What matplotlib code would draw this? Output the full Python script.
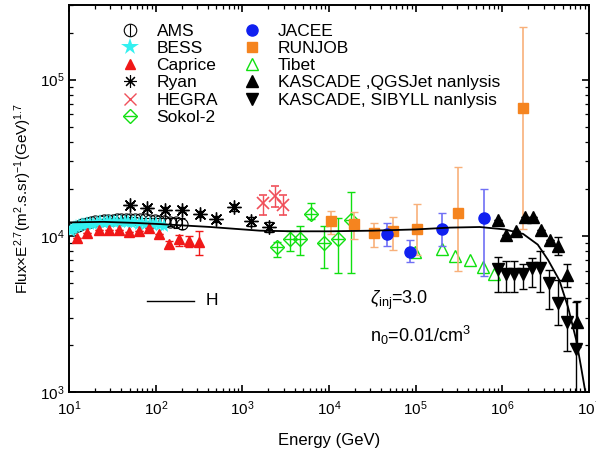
import numpy as np
import matplotlib
matplotlib.use("Agg")
import matplotlib.pyplot as plt
from matplotlib.lines import Line2D

plt.rcParams['font.family'] = ['Liberation Sans', 'DejaVu Sans']
plt.rcParams['mathtext.fontset'] = 'custom'
plt.rcParams['mathtext.rm'] = 'Liberation Sans'
plt.rcParams['mathtext.it'] = 'Liberation Sans:italic'
plt.rcParams['mathtext.default'] = 'regular'

# model curve
curve_E = [10, 25, 59, 112, 427, 1585, 3981, 1e4, 3.16e4, 1e5, 2.5e5, 5.5e5,
           1.07e6, 1.74e6, 2.57e6, 3.39e6, 4.57e6, 5.75e6, 7.16e6, 8.13e6, 9.12e6]
curve_F = [1.22e4, 1.23e4, 1.21e4, 1.19e4, 1.14e4, 1.08e4, 1.07e4, 1.07e4, 1.08e4,
           1.10e4, 1.13e4, 1.14e4, 1.10e4, 1.03e4, 8.8e3, 7.0e3, 5.2e3, 3.5e3,
           2.15e3, 1.45e3, 1.0e3]

ams_E = [11, 12.5, 14, 16, 18, 20, 22.5, 25, 28, 32, 36, 40, 45, 51, 58, 66, 75,
         85, 97, 110, 125, 145, 170, 200]
ams_F = [11.3e3, 11.6e3, 11.9e3, 12.1e3, 12.3e3, 12.4e3, 12.5e3, 12.6e3, 12.6e3,
         12.7e3, 12.8e3, 12.8e3, 12.9e3, 12.9e3, 12.9e3, 12.8e3, 12.8e3, 12.7e3,
         12.6e3, 12.5e3, 12.4e3, 12.3e3, 12.2e3, 12.0e3]
ams_err = [0.3e3] * 18 + [0.5e3, 0.6e3, 0.7e3, 0.8e3, 0.9e3, 1.0e3]

bess_E = [10.5, 11, 11.5, 12, 13, 14, 15, 16, 17.5, 19, 21, 23, 25, 27.5, 30, 33,
          36, 40, 44, 48, 53, 58, 64, 70, 77, 85, 93, 102, 112, 123]
bess_F = [10.8e3, 11.0e3, 11.2e3, 11.4e3, 11.5e3, 11.7e3, 11.8e3, 11.9e3, 12.0e3,
          12.0e3, 12.1e3, 12.2e3, 12.1e3, 12.2e3, 12.3e3, 12.2e3, 12.3e3, 12.2e3,
          12.3e3, 12.2e3, 12.1e3, 12.2e3, 12.0e3, 12.1e3, 11.9e3, 12.0e3, 11.8e3,
          11.9e3, 11.7e3, 11.6e3]

caprice_E = [12.3, 16.0, 22.4, 29.2, 38.0, 49.5, 64.6, 84.3, 108, 141, 184, 240, 313]
caprice_F = [9.67e3, 1.04e4, 1.09e4, 1.09e4, 1.09e4, 1.06e4, 1.08e4, 1.12e4,
             1.03e4, 8.9e3, 9.5e3, 9.3e3, 9.2e3]
caprice_lo = [9.67e3, 1.04e4, 1.09e4, 1.09e4, 1.09e4, 1.06e4, 1.08e4, 1.12e4,
              1.03e4, 8.5e3, 8.6e3, 8.5e3, 7.6e3]
caprice_hi = [9.67e3, 1.04e4, 1.09e4, 1.09e4, 1.09e4, 1.06e4, 1.08e4, 1.12e4,
              1.03e4, 9.3e3, 1.01e4, 1.0e4, 1.08e4]

ryan_E = [50.1, 78.7, 128, 200, 324, 501, 794, 1247, 2042]
ryan_F = [1.58e4, 1.51e4, 1.47e4, 1.47e4, 1.38e4, 1.28e4, 1.52e4, 1.24e4, 1.14e4]
ryan_err = [0.04e4, 0.04e4, 0.05e4, 0.05e4, 0.06e4, 0.06e4, 0.08e4, 0.08e4, 0.08e4]

hegra_E = [1738, 2377, 2951]
hegra_F = [1.62e4, 1.79e4, 1.58e4]
hegra_lo = [1.36e4, 1.54e4, 1.36e4]
hegra_hi = [1.83e4, 2.10e4, 1.83e4]

sokol_E = [2483, 3540, 4571, 6166, 8710, 12763, 17783]
sokol_F = [8.5e3, 9.6e3, 9.6e3, 1.38e4, 9.0e3, 9.6e3, 1.27e4]
sokol_lo = [7.3e3, 8.0e3, 7.6e3, 1.28e4, 6.2e3, 5.8e3, 5.8e3]
sokol_hi = [9.2e3, 1.07e4, 1.16e4, 1.62e4, 1.16e4, 1.31e4, 1.92e4]

jacee_E = [4.62e4, 8.57e4, 2.04e5, 6.17e5]
jacee_F = [1.03e4, 7.9e3, 1.10e4, 1.30e4]
jacee_lo = [8.6e3, 6.8e3, 8.6e3, 5.5e3]
jacee_hi = [1.21e4, 9.4e3, 1.40e4, 2.0e4]

runjob_E = [1.05e4, 1.95e4, 3.3e4, 5.5e4, 1.04e5, 3.09e5, 1.74e6]
runjob_F = [1.25e4, 1.19e4, 1.04e4, 1.08e4, 1.10e4, 1.40e4, 6.6e4]
runjob_lo = [1.03e4, 9.5e3, 8.5e3, 8.1e3, 7.55e3, 6.0e3, 1.1e4]
runjob_hi = [1.45e4, 1.43e4, 1.21e4, 1.32e4, 1.60e4, 2.74e4, 2.18e5]

tibet_E = [9.8e4, 2.04e5, 2.82e5, 4.2e5, 6.0e5, 8.1e5]
tibet_F = [7.9e3, 8.3e3, 7.4e3, 7.0e3, 6.3e3, 5.7e3]

qgs_E = [8.9e5, 1.12e6, 1.43e6, 1.82e6, 2.26e6, 2.82e6, 3.55e6, 4.42e6, 5.62e6, 7.24e6]
qgs_F = [1.26e4, 1.01e4, 1.08e4, 1.32e4, 1.32e4, 1.09e4, 9.4e3, 8.6e3, 5.6e3, 2.8e3]
qgs_lo = [1.26e4, 1.01e4, 1.08e4, 1.32e4, 1.32e4, 1.09e4, 9.4e3, 7.55e3, 4.7e3, 1.95e3]
qgs_hi = [1.26e4, 1.01e4, 1.08e4, 1.32e4, 1.32e4, 1.09e4, 9.4e3, 9.8e3, 6.6e3, 3.85e3]

sib_E = [8.9e5, 1.12e6, 1.38e6, 1.74e6, 2.19e6, 2.75e6, 3.47e6, 4.42e6, 5.62e6, 7.08e6]
sib_F = [6.1e3, 5.7e3, 5.7e3, 5.7e3, 6.2e3, 6.2e3, 5.0e3, 3.7e3, 2.8e3, 1.9e3]
sib_lo = [4.4e3, 4.4e3, 4.4e3, 4.6e3, 4.7e3, 4.4e3, 3.4e3, 2.7e3, 1.84e3, 9e2]
sib_hi = [7.3e3, 6.9e3, 6.9e3, 6.6e3, 7.2e3, 8.0e3, 6.05e3, 5.2e3, 4.0e3, 3.8e3]


def bars(F, lo, hi):
    F = np.array(F)
    return [F - np.array(lo), np.array(hi) - F]


fig = plt.figure(figsize=(5.96, 4.55), dpi=100)
ax = fig.add_axes([0.116, 0.138, 0.872, 0.851])

cyan = '#33f0f0'
red = '#f01818'
green = '#10e010'
blue = '#1020f0'
orange = '#f5841f'

ax.plot(curve_E, curve_F, color='black', lw=1.3, zorder=6)

ax.errorbar(ams_E, ams_F, yerr=ams_err, fmt='o', mfc='none', mec='black', ms=8,
            mew=0.8, ecolor='black', elinewidth=0.8, capsize=2, zorder=3)
ax.plot(bess_E, bess_F, '*', color=cyan, ms=11, mew=0, zorder=4)
ax.errorbar(caprice_E, caprice_F, yerr=bars(caprice_F, caprice_lo, caprice_hi),
            fmt='^', color=red, ms=7, ecolor=red, elinewidth=1, capsize=3, zorder=5)
ax.errorbar(ryan_E, ryan_F, yerr=ryan_err, fmt='none', ecolor='black',
            elinewidth=0.8, capsize=3, zorder=5)
ax.plot(ryan_E, ryan_F, ls='none', marker=(8, 2, 0), color='black', ms=10, mew=1, zorder=5)
ax.errorbar(hegra_E, hegra_F, yerr=bars(hegra_F, hegra_lo, hegra_hi), fmt='x',
            color='#f0505a', ms=9, mew=1.2, ecolor='#f0505a', elinewidth=1, capsize=3)
ax.errorbar(sokol_E, sokol_F, yerr=bars(sokol_F, sokol_lo, sokol_hi), fmt='D',
            mfc='none', mec=green, ms=7, mew=1, ecolor=green, elinewidth=1, capsize=3)
ax.plot(sokol_E, sokol_F, ls='none', marker='_', color=green, ms=9, mew=1)
ax.errorbar(runjob_E, runjob_F, yerr=bars(runjob_F, runjob_lo, runjob_hi), fmt='s',
            color=orange, ms=7, ecolor='#f8b07a', elinewidth=1.2, capsize=3, zorder=4)
ax.errorbar(jacee_E, jacee_F, yerr=bars(jacee_F, jacee_lo, jacee_hi), fmt='o',
            color=blue, ms=8, ecolor='#7070f5', elinewidth=1.2, capsize=3, zorder=4)
ax.plot(tibet_E, tibet_F, '^', mfc='none', mec=green, ms=8, mew=1)
ax.errorbar(qgs_E, qgs_F, yerr=bars(qgs_F, qgs_lo, qgs_hi), fmt='^', color='black',
            ms=8, ecolor='black', elinewidth=1, capsize=3, zorder=5)
ax.errorbar(sib_E, sib_F, yerr=bars(sib_F, sib_lo, sib_hi), fmt='v', color='black',
            ms=8, ecolor='black', elinewidth=1, capsize=3, zorder=5)

ax.set_xscale('log')
ax.set_yscale('log')
ax.set_xlim(10, 1e7)
ax.set_ylim(1e3, 3e5)

for s in ax.spines.values():
    s.set_linewidth(1.4)
ax.tick_params(which='both', direction='in', top=True, right=True, labelsize=11)
ax.tick_params(which='major', length=5, width=1.2)
ax.tick_params(which='minor', length=3, width=0.9)
ax.tick_params(axis='x', pad=5)

ax.set_xlabel('Energy (GeV)', fontsize=12, labelpad=11)
ax.set_ylabel('Flux×E$^{2.7}$(m$^{2}$.s.sr)$^{-1}$(GeV)$^{1.7}$', fontsize=11)

# legend
h_ams = (Line2D([], [], ls='none', marker='o', mfc='none', mec='black', ms=9, mew=0.8),
         Line2D([], [], ls='none', marker='|', color='black', ms=9, mew=0.8))
h_sokol = (Line2D([], [], ls='none', marker='D', mfc='none', mec=green, ms=7, mew=1),
           Line2D([], [], ls='none', marker='_', color=green, ms=9, mew=1))
handles = [
    h_ams,
    Line2D([], [], ls='none', marker='*', color=cyan, ms=13, mew=0),
    Line2D([], [], ls='none', marker='^', color=red, ms=7),
    Line2D([], [], ls='none', marker=(8, 2, 0), color='black', ms=9, mew=0.8),
    Line2D([], [], ls='none', marker='x', color='#f0505a', ms=8, mew=1),
    h_sokol,
    Line2D([], [], ls='none', marker='o', color=blue, ms=8),
    Line2D([], [], ls='none', marker='s', color=orange, ms=7),
    Line2D([], [], ls='none', marker='^', mfc='none', mec=green, ms=8, mew=1),
    Line2D([], [], ls='none', marker='^', color='black', ms=8),
    Line2D([], [], ls='none', marker='v', color='black', ms=8),
]
labels = ['AMS', 'BESS', 'Caprice', 'Ryan', 'HEGRA', 'Sokol-2',
          'JACEE', 'RUNJOB', 'Tibet', 'KASCADE ,QGSJet nanlysis',
          'KASCADE, SIBYLL nanlysis']
ax.legend(handles, labels, ncol=2, loc='upper left', bbox_to_anchor=(0.093, 0.952),
          frameon=False, fontsize=12.5, handlelength=1.5, handletextpad=0.75,
          columnspacing=1.2, labelspacing=0.12, borderpad=0, borderaxespad=0)

# annotations
ax.plot([0.15, 0.24], [0.236, 0.236], color='black', lw=1, transform=ax.transAxes)
ax.text(0.262, 0.236, 'H', transform=ax.transAxes, fontsize=12.5, va='center')
ax.text(0.578, 0.236, r'$\mathit{\zeta}_{inj}$=3.0', transform=ax.transAxes,
        fontsize=13, va='center')
ax.text(0.578, 0.146, 'n$_{0}$=0.01/cm$^{3}$', transform=ax.transAxes,
        fontsize=13, va='center')

fig.savefig('out.png', dpi=100)
